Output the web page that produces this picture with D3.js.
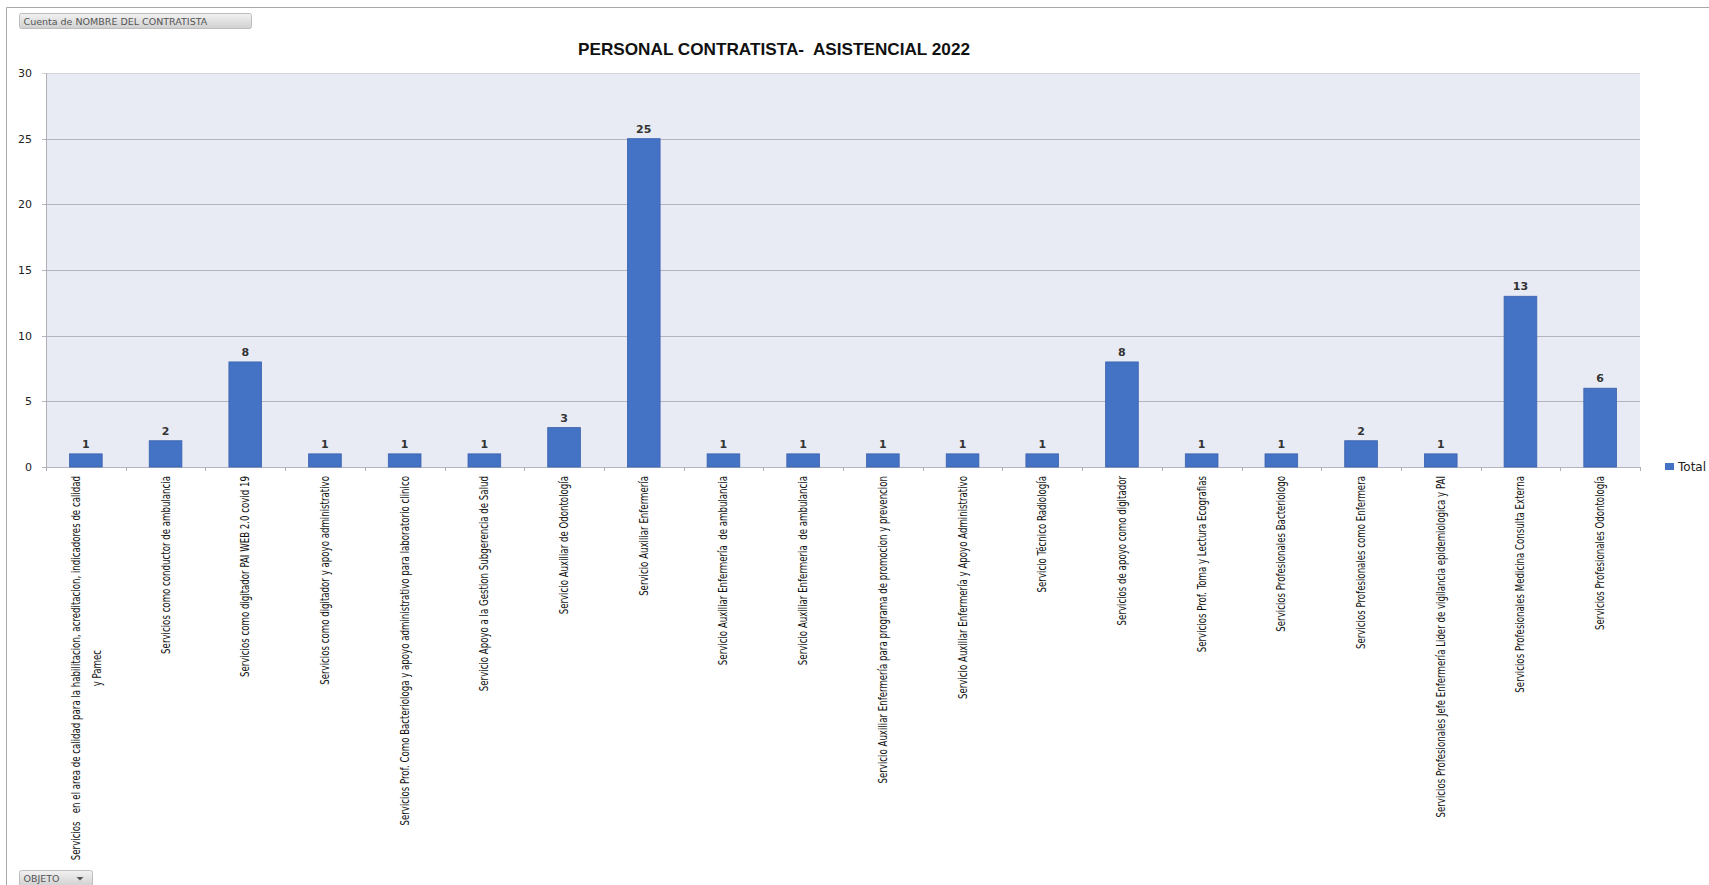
<!DOCTYPE html>
<html lang="es">
<head>
<meta charset="UTF-8">
<title>Personal contratista asistencial 2022</title>
<script src="https://cdn.jsdelivr.net/npm/d3@7"></script>
<style>
  body { margin: 0; background: #fff; }
  svg { display: block; }
  text { white-space: pre; }
</style>
</head>
<body>
<script>
// datos
var categorias = [
  "Servicios   en el area de calidad para la habilitacion, acreditacion, indicadores de calidad|y Pamec",
  "Servicios como conductor de ambulancia",
  "Servicios como digitador PAI WEB 2.0 covid 19",
  "Servicios como digitador y apoyo administrativo",
  "Servicios Prof. Como Bacteriologa y apoyo administrativo para laboratorio clinico",
  "Servicio Apoyo a la Gestion Subgerencia de Salud",
  "Servicio Auxiliar de Odontología",
  "Servicio Auxiliar Enfermería",
  "Servicio Auxiliar Enfermería  de ambulancia",
  "Servicio Auxiliar Enfermeria  de ambulancia",
  "Servicio Auxiliar Enfermería para programa de promocion y prevencion",
  "Servicio Auxiliar Enfermería y Apoyo Administrativo",
  "Servicio Técnico Radiología",
  "Servicios de apoyo como digitador",
  "Servicios Prof. Toma y Lectura Ecografias",
  "Servicios Profesionales Bacteriologo",
  "Servicios Profesionales como Enfermera",
  "Servicios Profesionales Jefe Enfermería Lider de vigilancia epidemiologica y PAI",
  "Servicios Profesionales Medicina Consulta Externa",
  "Servicios Profesionales Odontología"
];
var totales = [1, 2, 8, 1, 1, 1, 3, 25, 1, 1, 1, 1, 1, 8, 1, 1, 2, 1, 13, 6];
var ticksY = [0, 5, 10, 15, 20, 25, 30];
var titulo = "PERSONAL CONTRATISTA-  ASISTENCIAL 2022";
var serie = "Total";

var ancho = 1709, alto = 885;
var izq = 46, der = 1640, arriba = 73, abajo = 467;

var svg = d3.select("body").append("svg")
  .attr("width", ancho).attr("height", alto);

// marco
svg.append("path")
  .attr("d", "M6.5," + alto + "V7.5H" + ancho)
  .attr("fill", "none").attr("stroke", "#a8a8a8");

// botones de campo
function boton(x, y, w, h, texto, flecha) {
  var g = svg.append("g").attr("transform", "translate(" + x + "," + y + ")");
  var grad = svg.append("defs").append("linearGradient")
    .attr("id", "gb" + Math.round(y)).attr("x1", 0).attr("y1", 0).attr("x2", 0).attr("y2", 1);
  grad.append("stop").attr("offset", 0).attr("stop-color", "#f2f2f2");
  grad.append("stop").attr("offset", 1).attr("stop-color", "#d0d0d0");
  g.append("rect").attr("width", w).attr("height", h).attr("rx", 2)
    .attr("fill", "url(#gb" + Math.round(y) + ")").attr("stroke", "#bdbdbd");
  g.append("text").attr("x", 4).attr("y", h / 2 + 3.5)
    .attr("font-family", "DejaVu Sans, sans-serif").attr("font-size", 9.5)
    .attr("fill", "#555").text(texto);
  if (flecha) {
    g.append("path").attr("d", "M" + (w - 16) + "," + (h / 2 - 1.5) + "h7l-3.5,3.5z").attr("fill", "#555");
  }
}
boton(19.5, 13.5, 232, 15, "Cuenta de NOMBRE DEL CONTRATISTA", false);
boton(19.5, 870.5, 73, 16, "OBJETO", true);

// titulo
svg.append("text")
  .attr("x", 774).attr("y", 55)
  .attr("text-anchor", "middle")
  .attr("font-family", "Liberation Sans, Arial, sans-serif")
  .attr("font-weight", "bold").attr("font-size", 17)
  .attr("textLength", 392).attr("lengthAdjust", "spacingAndGlyphs")
  .attr("fill", "#111")
  .text(titulo);

// escalas
var x = d3.scaleBand()
  .domain(d3.range(categorias.length))
  .range([izq, der])
  .paddingInner(0.59).paddingOuter(0.295);
var y = d3.scaleLinear().domain([0, 30]).range([abajo, arriba]);

// fondo
svg.append("rect").attr("x", izq).attr("y", arriba)
  .attr("width", der - izq).attr("height", abajo - arriba)
  .attr("fill", "#e8eaf4");

// rejilla
svg.append("g").selectAll("line").data(ticksY).enter().append("line")
  .attr("x1", izq - 4).attr("x2", der)
  .attr("y1", function (d) { return Math.round(y(d)) + 0.5; })
  .attr("y2", function (d) { return Math.round(y(d)) + 0.5; })
  .attr("stroke", function (d) { return d === 30 ? "#d4d4dc" : "#b4b4c0"; });

// eje vertical
svg.append("line").attr("x1", izq + 0.5).attr("x2", izq + 0.5)
  .attr("y1", arriba).attr("y2", abajo + 4).attr("stroke", "#b0b0b8");

svg.append("g").selectAll("text").data(ticksY).enter().append("text")
  .attr("x", 32).attr("y", function (d) { return y(d) + 4; })
  .attr("text-anchor", "end")
  .attr("font-family", "DejaVu Sans, sans-serif").attr("font-size", 11)
  .attr("fill", "#222")
  .text(function (d) { return d; });

// marcas del eje x
var paso = x.step();
svg.append("g").selectAll("line").data(d3.range(categorias.length + 1)).enter().append("line")
  .attr("x1", function (i) { return Math.round(izq + i * paso) + 0.5; })
  .attr("x2", function (i) { return Math.round(izq + i * paso) + 0.5; })
  .attr("y1", abajo).attr("y2", abajo + 4)
  .attr("stroke", "#b0b0b8");

// barras
svg.append("g").selectAll("rect").data(totales).enter().append("rect")
  .attr("x", function (d, i) { return x(i); })
  .attr("y", function (d) { return y(d); })
  .attr("width", x.bandwidth())
  .attr("height", function (d) { return y(0) - y(d); })
  .attr("fill", "#4472c4").attr("stroke", "#3a62ad").attr("stroke-width", 0.8);

// etiquetas de valor
svg.append("g").selectAll("text").data(totales).enter().append("text")
  .attr("x", function (d, i) { return x(i) + x.bandwidth() / 2; })
  .attr("y", function (d) { return y(d) - 6; })
  .attr("text-anchor", "middle")
  .attr("font-family", "DejaVu Sans, sans-serif").attr("font-size", 11)
  .attr("font-weight", "bold").attr("fill", "#333")
  .text(function (d) { return d; });

// etiquetas de categoria (giradas y estrechadas)
var fuenteCat = "DejaVu Sans Condensed, DejaVu Sans, sans-serif";
var estrecho = 0.8;
categorias.forEach(function (c, i) {
  var lineas = c.split("|");
  var cx = x(i) + x.bandwidth() / 2;
  var g = svg.append("g")
    .attr("transform", "translate(" + cx + "," + (abajo + 9) + ") rotate(-90) scale(" + estrecho + ",1)");
  var t0 = g.append("text")
    .attr("font-family", fuenteCat).attr("font-size", 12).attr("fill", "#111")
    .attr("text-anchor", "end").attr("y", 4)
    .text(lineas[0]);
  var l0 = t0.node().getComputedTextLength();
  if (lineas.length > 1) {
    t0.attr("y", -6);
    g.append("text")
      .attr("font-family", fuenteCat).attr("font-size", 12).attr("fill", "#111")
      .attr("text-anchor", "middle").attr("x", -l0 / 2).attr("y", 15)
      .text(lineas[1]);
  }
});

// leyenda
svg.append("rect").attr("x", 1665).attr("y", 463).attr("width", 9).attr("height", 7)
  .attr("fill", "#4472c4");
svg.append("text").attr("x", 1678).attr("y", 470.5)
  .attr("font-family", "DejaVu Sans, sans-serif").attr("font-size", 12)
  .attr("fill", "#222").text(serie);
</script>
</body>
</html>
